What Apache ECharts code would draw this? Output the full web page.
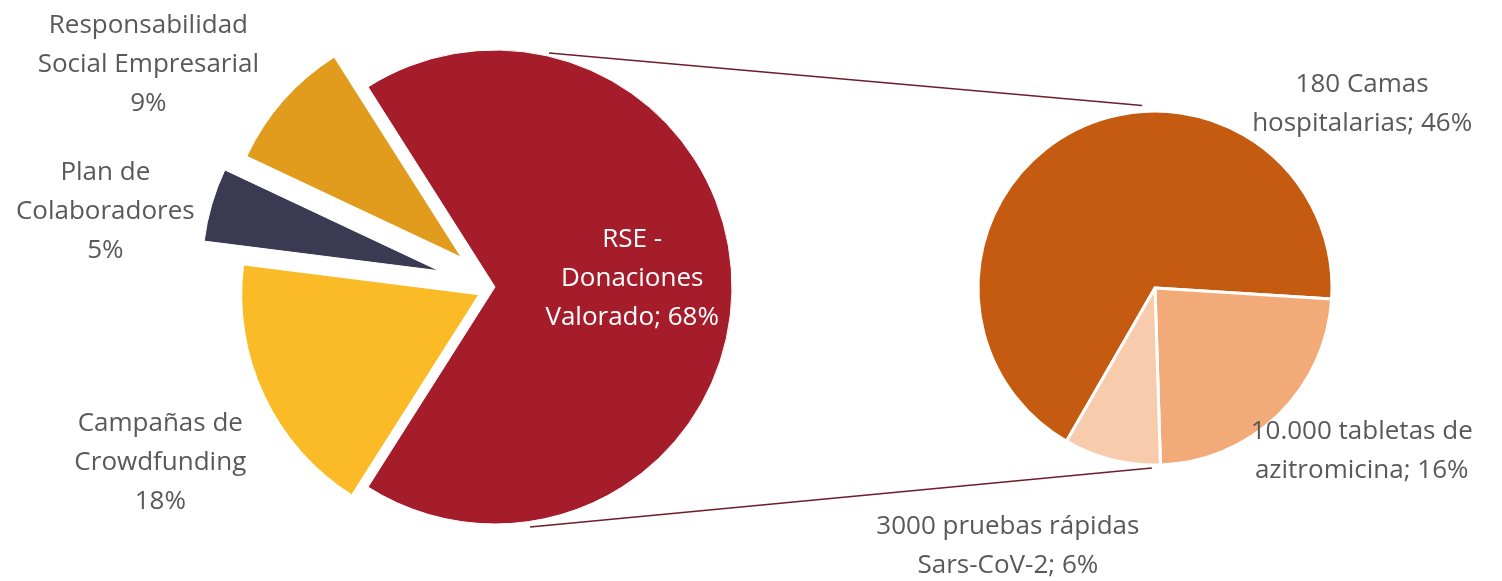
<!DOCTYPE html>
<html>
<head>
<meta charset="utf-8">
<script src="https://cdn.jsdelivr.net/npm/echarts@6/dist/echarts.min.js"></script>
<style>
html, body { margin: 0; padding: 0; background: #fff; }
#main { width: 1502px; height: 581px; }
</style>
</head>
<body>
<div id="main"></div>
<script>
// pie principal: origen de los fondos (%)
const fuentes = ['RSE -\nDonaciones\nValorado', 'Campañas de\nCrowdfunding', 'Plan de\nColaboradores', 'Responsabilidad\nSocial Empresarial'];
const fuentesPct = [68, 18, 5, 9];
// segundo pie: desglose de RSE - Donaciones (% del total)
const donaciones = ['180 Camas\nhospitalarias', '10.000 tabletas de\nazitromicina', '3000 pruebas rápidas\nSars-CoV-2'];
const donacionesPct = [46, 16, 6];

// geometria y estilos
const izq = { cx: 495, cy: 287, r: 237 };
const der = { cx: 1155, cy: 288, r: 177 };
const colIzq = ['#a51c2a', '#fbbb27', '#3b3a53', '#e19c1e'];
const colDer = ['#c55a11', '#f3aa79', '#f8cbad'];
const explosion = [0, 18, 58, 45];
// posicion de etiquetas: [angulo, distancia en radios]
const etqIzq = [[3.7, 0.58], [207.7, 1.595], [169, 1.675], [147.3, 1.738]];
const etqDer = [[41.6, 1.565], [-38.2, 1.486], [-119.7, 1.678]];
// lineas de union: [angulo izq, factor, angulo der, factor]
const uniones = [[77, 1.013, 94, 1.034], [-81.7, 1.023, -91, 1.017]];

const gris = '#595959';
const fuente = { fontFamily: 'Open Sans', fontSize: 26, lineHeight: 39 };

function punto(p, ang, k) {
  const a = ang * Math.PI / 180;
  return [p.cx + k * p.r * Math.cos(a), p.cy - k * p.r * Math.sin(a)];
}

const total = fuentesPct.reduce((a, b) => a + b, 0);
const series = [];

// un pie por porcion para poder separar cada una distinto;
// el primero (sin separar) lleva todas las etiquetas
fuentes.forEach((_, i) => {
  series.push({
    type: 'pie',
    center: [izq.cx, izq.cy],
    radius: [0, izq.r],
    startAngle: 180 * fuentesPct[0] / total,
    avoidLabelOverlap: false,
    selectedMode: 'multiple',
    selectedOffset: explosion[i],
    emphasis: { disabled: true },
    silent: true,
    labelLine: { show: false },
    label: Object.assign({
      show: i === 0,
      color: gris,
      formatter: p => p.dataIndex === 0 ? p.name + '; ' + p.value + '%' : p.name + '\n' + p.value + '%'
    }, fuente),
    labelLayout: p => {
      const pt = punto(izq, etqIzq[p.dataIndex][0], etqIzq[p.dataIndex][1]);
      return { x: pt[0], y: pt[1], align: 'center', verticalAlign: 'middle' };
    },
    data: fuentes.map((n, j) => ({
      name: n,
      value: fuentesPct[j],
      selected: j === i && explosion[i] > 0,
      itemStyle: j === i
        ? { color: colIzq[j], borderColor: '#fff', borderWidth: 1 }
        : { color: 'rgba(0,0,0,0)', borderWidth: 0 },
      label: j === 0 ? { color: '#fff' } : {}
    }))
  });
});

series.push({
  type: 'pie',
  center: [der.cx, der.cy],
  radius: [0, der.r],
  startAngle: 240,
  avoidLabelOverlap: false,
  emphasis: { disabled: true },
  silent: true,
  labelLine: { show: false },
  itemStyle: { borderColor: '#fff', borderWidth: 3 },
  label: Object.assign({
    color: gris,
    formatter: p => p.name + '; ' + p.value + '%'
  }, fuente),
  labelLayout: p => {
    const pt = punto(der, etqDer[p.dataIndex][0], etqDer[p.dataIndex][1]);
    return { x: pt[0], y: pt[1], align: 'center', verticalAlign: 'middle' };
  },
  data: donaciones.map((n, j) => ({ name: n, value: donacionesPct[j], itemStyle: { color: colDer[j] } }))
});

const lineas = uniones.map(u => {
  const a = punto(izq, u[0], u[1]);
  const b = punto(der, u[2], u[3]);
  return {
    type: 'line',
    z: -1,
    shape: { x1: a[0], y1: a[1], x2: b[0], y2: b[1] },
    style: { stroke: '#6e1d2a', lineWidth: 1.5 }
  };
});

const myChart = echarts.init(document.getElementById('main'));
myChart.setOption({
  backgroundColor: '#fff',
  animation: false,
  graphic: lineas,
  series: series
});
</script>
</body>
</html>
